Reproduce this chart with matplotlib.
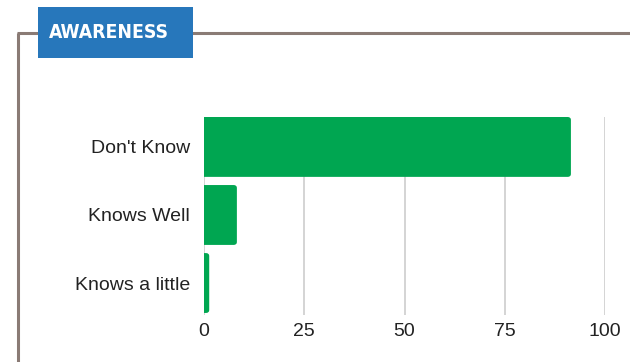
import matplotlib
matplotlib.use("Agg")
import matplotlib.pyplot as plt
from matplotlib.patches import FancyBboxPatch, Rectangle
from matplotlib.lines import Line2D

categories = ["Don't Know", "Knows Well", "Knows a little"]
values = [91.5, 8.2, 1.3]
xticks = [0, 25, 50, 75, 100]
title = "AWARENESS"

W, H = 630, 362
fig = plt.figure(figsize=(W / 100, H / 100), dpi=100)
fig.patch.set_facecolor("white")

def fx(px):
    return px / W

def fy(py):
    return 1 - py / H

frame_color = "#8a7b75"
fig.add_artist(Line2D([fx(18), fx(18)], [fy(33), fy(362)], color=frame_color, lw=2.2,
                      transform=fig.transFigure, solid_capstyle="butt"))
fig.add_artist(Line2D([fx(17), fx(630)], [fy(33), fy(33)], color=frame_color, lw=2.2,
                      transform=fig.transFigure, solid_capstyle="butt"))
fig.add_artist(Rectangle((fx(38), fy(58)), fx(193) - fx(38), fy(7) - fy(58),
                         transform=fig.transFigure, facecolor="#2777bb", edgecolor="none", zorder=3))
t = fig.text(fx(109), fy(32), title, color="white", fontsize=17, fontweight="bold",
             family=["DejaVu Sans"], fontstretch="condensed",
             ha="center", va="center", zorder=4)
renderer = fig.canvas.get_renderer()
wpx = t.get_window_extent(renderer).width
t.set_fontsize(17 * 120 / wpx)

ax = fig.add_axes([fx(204), fy(315), fx(605) - fx(204), fy(117) - fy(315)])
ypos = list(range(len(categories)))
bars = ax.barh(ypos, values, height=0.88, color="none")
for b in bars:
    x0, y0 = b.get_x(), b.get_y()
    w, h = b.get_width(), b.get_height()
    p = FancyBboxPatch((x0 - 2, y0), w + 2, h,
                       boxstyle="round,pad=0,rounding_size=0.8",
                       mutation_aspect=0.055,
                       facecolor="#00a651", edgecolor="none", zorder=3)
    ax.add_patch(p)

ax.set_xlim(0, 100)
ax.set_ylim(2.47, -0.44)
ax.set_xticks(xticks)
ax.set_xticklabels([str(v) for v in xticks])
ax.set_yticks(ypos)
ax.set_yticklabels(categories)
ax.grid(axis="x", color="#d4d4d4", lw=1.4, zorder=0)
ax.set_axisbelow(True)
for s in ax.spines.values():
    s.set_visible(False)
ax.tick_params(axis="both", length=0, labelsize=14, labelcolor="#222222")
ax.tick_params(axis="y", pad=10)
ax.tick_params(axis="x", pad=6)
for lbl in ax.get_xticklabels() + ax.get_yticklabels():
    lbl.set_family("Liberation Sans")

fig.savefig("out.png", dpi=100)
